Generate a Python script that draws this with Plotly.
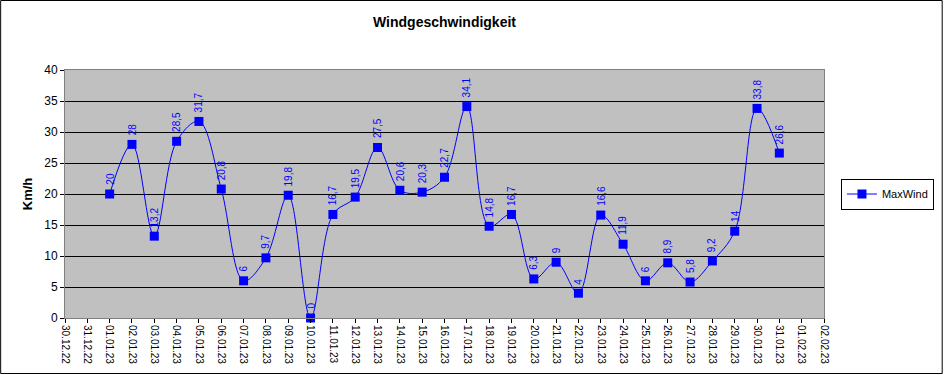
import plotly.graph_objects as go

dates = ["2023-01-%02d" % d for d in range(1, 32)]
maxwind = [20, 28, 13.2, 28.5, 31.7, 20.8, 6, 9.7, 19.8, 0, 16.7, 19.5, 27.5, 20.6,
           20.3, 22.7, 34.1, 14.8, 16.7, 6.3, 9, 4, 16.6, 11.9, 6, 8.9, 5.8, 9.2,
           14, 33.8, 26.6]
title = "Windgeschwindigkeit"
y_title = "Km/h"
series_name = "MaxWind"

W, H = 946, 375
L, R, T, B = 65, 120, 70, 57
pw, ph = W - L - R, H - T - B

fig = go.Figure()
fig.add_trace(go.Scatter(
    x=dates, y=maxwind, name=series_name, mode="lines+markers",
    line=dict(color="#0000ff", width=1, shape="spline", smoothing=1.0),
    marker=dict(symbol="square", size=9, color="#0000ff"),
    cliponaxis=False,
))

def fmt(v):
    return ("%g" % v).replace(".", ",")

for d, v in zip(dates, maxwind):
    fig.add_annotation(x=d, y=v, xref="x", yref="y", text=fmt(v), showarrow=False,
                       textangle=-90, yanchor="bottom", yshift=7,
                       font=dict(family="Liberation Sans, Arial", size=10, color="#0000ff"))

fig.update_layout(
    width=W, height=H,
    margin=dict(l=L, r=R, t=T, b=B),
    paper_bgcolor="white", plot_bgcolor="#c0c0c0",
    font=dict(family="Liberation Sans, Arial", size=11, color="black"),
    title=dict(text="<b>" + title + "</b>", x=0.5, xref="paper", xanchor="center",
               y=1 - 22 / H, yanchor="middle", font=dict(size=14)),
    showlegend=True,
    legend=dict(x=(843 - L) / pw, y=0.5, xanchor="left", yanchor="middle",
                bordercolor="black", borderwidth=1, bgcolor="white",
                font=dict(size=11)),
    xaxis=dict(type="date", range=["2022-12-30", "2023-02-02"],
               tickformat="%d.%m.%y", dtick=86400000, tick0="2022-12-30",
               tickangle=90, ticks="outside", ticklen=4, tickcolor="black",
               tickfont=dict(size=10),
               showgrid=False, showline=True, linecolor="#808080", mirror=True,
               zeroline=False),
    yaxis=dict(range=[0, 40], dtick=5, ticks="outside", ticklen=4, tickcolor="black",
               tickfont=dict(size=12),
               title=dict(text="<b>" + y_title + "</b>", font=dict(size=13), standoff=8),
               showgrid=True, gridcolor="black", gridwidth=1,
               showline=True, linecolor="#808080", mirror=True, zeroline=False),
    shapes=[dict(type="rect", xref="paper", yref="paper",
                 x0=-L / pw + 0.5 / pw, x1=1 + (R - 1.5) / pw,
                 y0=-B / ph + 1.5 / ph, y1=1 + (T - 0.5) / ph,
                 line=dict(color="black", width=1), layer="below")],
)

fig.write_html("out.html", config={"displayModeBar": False},
               post_script="document.body.style.margin='0';document.body.style.overflow='hidden';")
